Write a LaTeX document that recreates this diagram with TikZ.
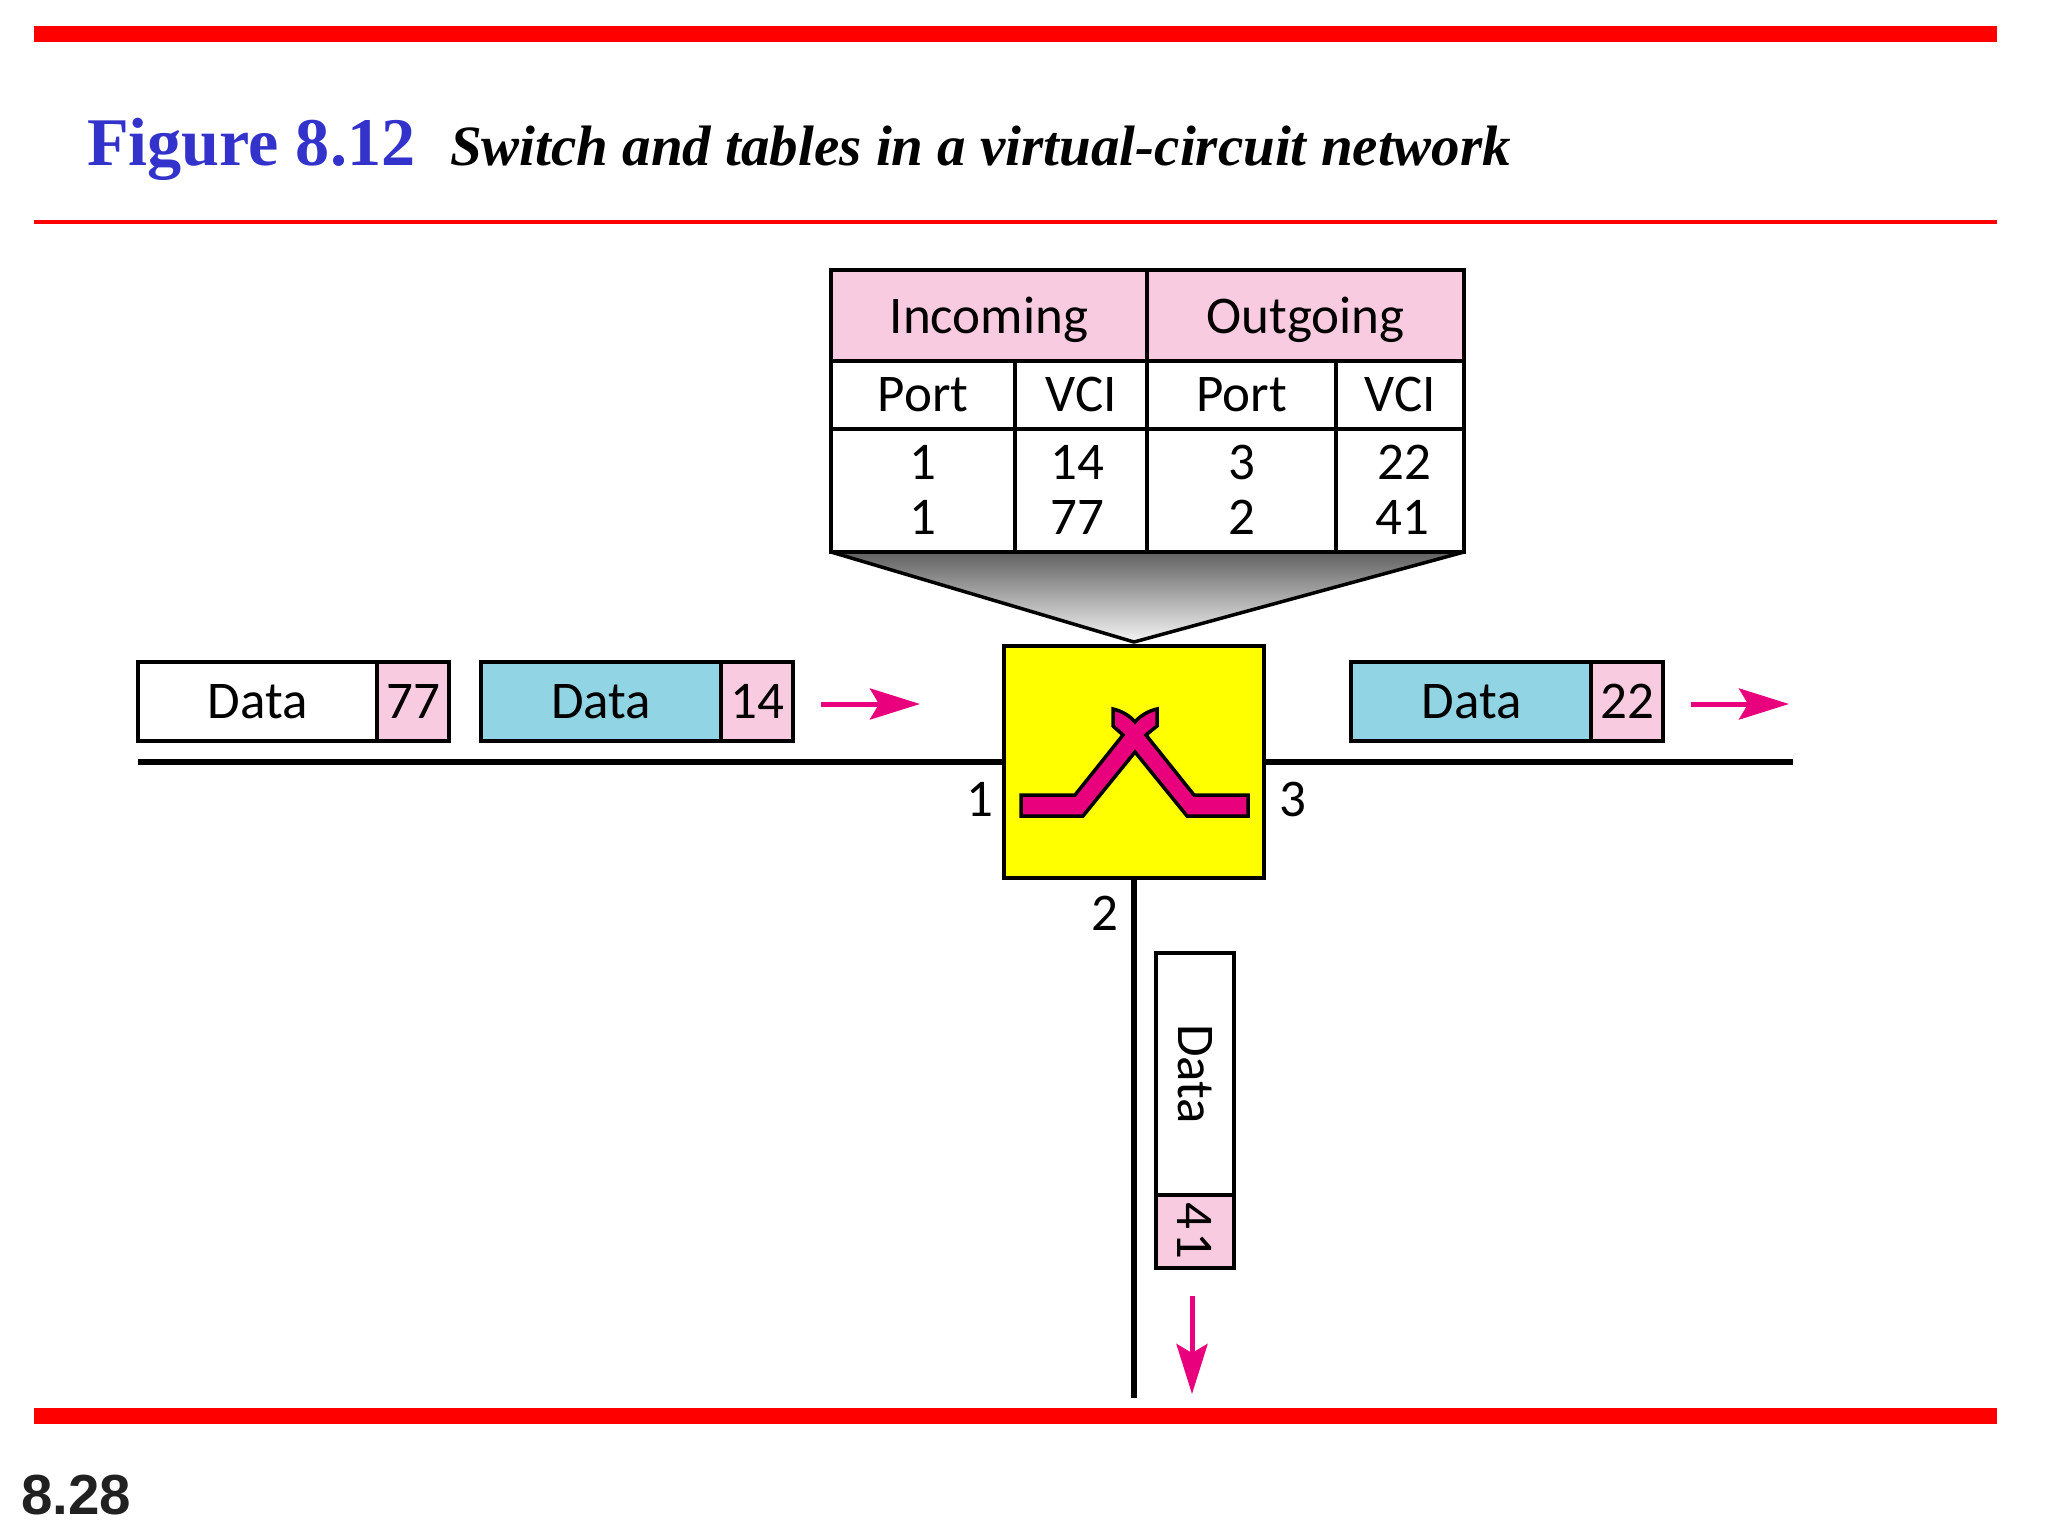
\documentclass[tikz,border=0pt]{standalone}
\usepackage{fontspec}
\usetikzlibrary{arrows.meta}
\setmainfont{Liberation Serif}
\newfontfamily\figfont{Carlito}
\newfontfamily\numfont{Liberation Sans}
\definecolor{barred}{RGB}{255,0,0}
\definecolor{titleblue}{RGB}{51,51,204}
\definecolor{cellpink}{RGB}{249,203,225}
\definecolor{cellblue}{RGB}{145,213,228}
\definecolor{hotpink}{RGB}{232,0,125}
\definecolor{switchyellow}{RGB}{255,255,0}
\tikzset{
  x=1pt,y=-1pt,
  cell/.style={draw=black,line width=4pt,inner sep=0pt,outer sep=0pt,align=center,
    font=\figfont\fontsize{53}{55}\selectfont},
  wire/.style={draw=black,line width=6pt},
  flow/.style={draw=hotpink,line width=5pt,-{Stealth[length=50pt,width=31pt,inset=9pt]},shorten >=-2pt},
  plain/.style={inner sep=0pt,outer sep=0pt},
  tag/.style={plain,font=\figfont\fontsize{53}{55}\selectfont},
}
\begin{document}
\begin{tikzpicture}
\useasboundingbox (0,0) rectangle (2048,1536);
% frame
\fill[barred] (34,26) rectangle (1997,42);
\fill[barred] (34,220) rectangle (1997,224);
\fill[barred] (34,1408) rectangle (1997,1424);
\node[plain,anchor=base west,text=titleblue,font=\bfseries\fontsize{68.2}{70}\selectfont] (figno) at (87,165) {Figure 8.12};
\node[plain,anchor=base west,font=\bfseries\itshape\fontsize{57}{60}\selectfont] (figtitle) at (450,165) {Switch and tables in a virtual-circuit network};
\node[plain,anchor=base west,text=black!87,font=\numfont\bfseries\fontsize{56.5}{60}\selectfont] (pageno) at (21,1514) {8.28};
% funnel
\coordinate (fl) at (831,552);
\coordinate (fr) at (1464,552);
\coordinate (fa) at (1134,642);
\draw[line width=3.5pt,line join=round,top color=black!62,bottom color=black!4] (fl) -- (fr) -- (fa) -- cycle;
% table
\node[cell,fill=cellpink,minimum width=316pt,minimum height=91pt] (hin) at (989,315) {\raisebox{-18pt}[0pt][0pt]{Incoming}};
\node[cell,fill=cellpink,minimum width=317pt,minimum height=91pt] (hout) at (1305.5,315) {\raisebox{-18pt}[0pt][0pt]{Outgoing}};
\node[cell,fill=white,minimum width=184pt,minimum height=68pt] (c1) at (923,394.5) {Port};
\node[cell,fill=white,minimum width=132pt,minimum height=68pt] (c2) at (1081,394.5) {VCI};
\node[cell,fill=white,minimum width=189pt,minimum height=68pt] (c3) at (1241.5,394.5) {Port};
\node[cell,fill=white,minimum width=128pt,minimum height=68pt] (c4) at (1400,394.5) {VCI};
\node[cell,fill=white,minimum width=184pt,minimum height=123pt] (d1) at (923,490) {1\\1};
\node[cell,fill=white,minimum width=132pt,minimum height=123pt] (d2) at (1081,490) {\hspace*{-8pt}14\\\hspace*{-8pt}77};
\node[cell,fill=white,minimum width=189pt,minimum height=123pt] (d3) at (1241.5,490) {3\\2};
\node[cell,fill=white,minimum width=128pt,minimum height=123pt] (d4) at (1400,490) {\hspace*{8pt}22\\\hspace*{4pt}41};
% wires
\node[cell,fill=switchyellow,minimum width=260pt,minimum height=232pt] (sw) at (1134,762) {};
\coordinate (lend) at (138,762);
\coordinate (rend) at (1793,762);
\coordinate (dend) at (1134,1398);
\draw[wire] (sw.west) -- (lend);
\draw[wire] (sw.east) -- (rend);
\draw[wire] (sw.south) -- (dend);
% switch symbol
\draw[fill=hotpink,draw=black,line width=3.5pt,line join=miter]
 (1021,795) -- (1075,795) -- (1123,735) -- (1113,726) -- (1113,709)
 .. controls (1122,711) and (1130,716) .. (1135,722)
 .. controls (1140,716) and (1148,711) .. (1157,709)
 -- (1157,726) -- (1146,735) -- (1194,795) -- (1248,795) -- (1248,816) -- (1187,816)
 -- (1135,752) -- (1083,816) -- (1021,816) -- cycle;
\node[tag] (p1) at (980,799) {1};
\node[tag] (p3) at (1293,799) {3};
\node[tag] (p2) at (1105,913) {2};
% packets
\node[cell,fill=white,minimum width=239pt,minimum height=79pt] (a1) at (257.5,701.5) {Data};
\node[cell,fill=cellpink,minimum width=72pt,minimum height=79pt] (a2) at (413,701.5) {77};
\node[cell,fill=cellblue,minimum width=240pt,minimum height=79pt] (b1) at (601,701.5) {Data};
\node[cell,fill=cellpink,minimum width=72pt,minimum height=79pt] (b2) at (757,701.5) {14};
\node[cell,fill=cellblue,minimum width=241pt,minimum height=79pt] (e1) at (1471.5,701.5) {Data};
\node[cell,fill=cellpink,minimum width=72pt,minimum height=79pt] (e2) at (1627,701.5) {22};
\node[cell,rotate=-90,fill=white,minimum width=242pt,minimum height=78pt] (v1) at (1195,1074) {Data};
\node[cell,rotate=-90,fill=cellpink,minimum width=73pt,minimum height=78pt] (v2) at (1195,1231) {4\kern3pt 1};
% arrows
\coordinate (a1s) at (821,704);
\coordinate (a1e) at (918,704);
\coordinate (a2s) at (1691,704);
\coordinate (a2e) at (1787,704);
\coordinate (a3s) at (1192,1296);
\coordinate (a3e) at (1192,1392);
\draw[flow] (a1s) -- (a1e);
\draw[flow] (a2s) -- (a2e);
\draw[flow] (a3s) -- (a3e);
\end{tikzpicture}
\end{document}
